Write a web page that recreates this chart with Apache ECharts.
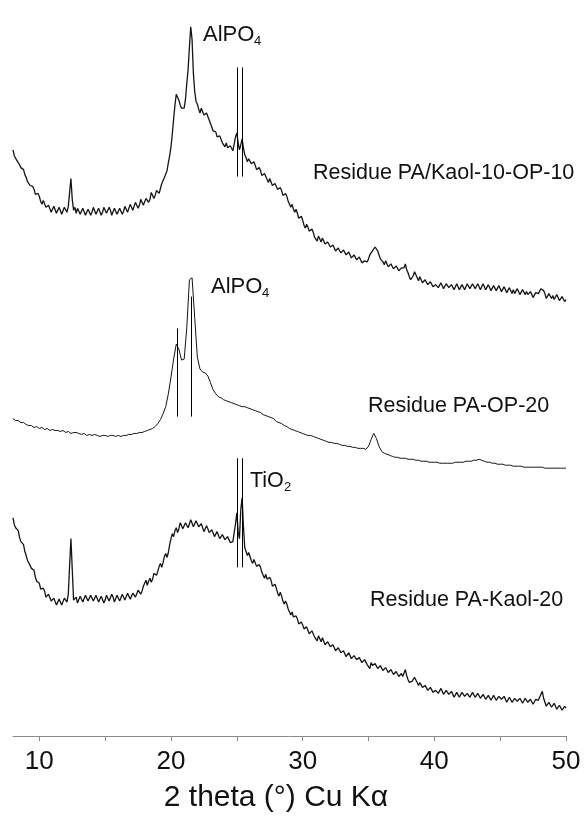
<!DOCTYPE html>
<html>
<head>
<meta charset="utf-8">
<script src="https://cdn.jsdelivr.net/npm/echarts@6/dist/echarts.min.js"></script>
<style>
  html, body { margin: 0; padding: 0; background: #fff; }
  #chart { width: 584px; height: 818px; }
</style>
</head>
<body>
<div id="chart"></div>
<script>
// every scan starts at 2θ = 8.0°; one row below = one degree
const angleStart = 8.0;
const fineStep = 0.1;   // the two noisy kaolin scans
const coarseStep = 0.2; // the smoother PA-OP-20 scan

// intensities (a.u., already offset for stacking)
const kaolOp = [
  591, 585, 583, 580, 581, 576, 573, 574, 571, 566, // 8
  563, 559, 561, 555, 553, 554, 551, 546, 544, 547, // 9
  544, 539, 536, 540, 538, 533, 531, 535, 533, 528, // 10
  529, 534, 532, 527, 528, 533, 531, 526, 527, 533, // 11
  531, 528, 534, 548, 562, 541, 530, 533, 527, 532, // 12
  531, 526, 527, 532, 530, 525, 526, 531, 529, 525, // 13
  528, 533, 531, 526, 527, 532, 530, 525, 528, 533, // 14
  532, 527, 528, 533, 530, 525, 527, 532, 531, 526, // 15
  527, 532, 531, 526, 529, 534, 533, 528, 530, 536, // 16
  535, 530, 532, 538, 537, 532, 535, 541, 540, 535, // 17
  537, 542, 543, 538, 541, 548, 547, 542, 545, 550, // 18
  551, 547, 552, 557, 558, 563, 564, 570, 578, 585, // 19
  594, 607, 622, 636, 647, 645, 641, 636, 633, 631, // 20
  633, 642, 658, 672, 695, 715, 702, 668, 650, 640, // 21
  637, 632, 628, 633, 631, 626, 625, 628, 626, 621, // 22
  620, 614, 610, 612, 609, 604, 602, 605, 603, 598, // 23
  597, 594, 598, 593, 592, 595, 593, 590, 597, 604, // 24
  608, 598, 591, 596, 602, 593, 586, 583, 579, 582, // 25
  580, 577, 575, 579, 575, 571, 569, 573, 570, 565, // 26
  563, 567, 565, 561, 558, 562, 560, 555, 553, 557, // 27
  555, 551, 549, 553, 550, 545, 543, 547, 544, 539, // 28
  536, 533, 536, 531, 528, 531, 527, 522, 520, 524, // 29
  520, 515, 512, 516, 513, 509, 507, 511, 508, 503, // 30
  502, 499, 504, 501, 498, 502, 500, 496, 494, 498, // 31
  497, 493, 491, 495, 494, 489, 488, 492, 491, 487, // 32
  486, 490, 489, 485, 484, 488, 486, 482, 481, 485, // 33
  484, 480, 479, 483, 482, 477, 476, 479, 480, 478, // 34
  481, 485, 487, 489, 490, 493, 493, 489, 485, 481, // 35
  482, 478, 475, 479, 477, 473, 472, 476, 475, 471, // 36
  470, 474, 473, 469, 468, 472, 470, 472, 476, 470, // 37
  467, 463, 460, 462, 464, 468, 465, 462, 459, 463, // 38
  461, 457, 456, 460, 458, 455, 454, 458, 456, 453, // 39
  452, 455, 456, 452, 453, 457, 455, 451, 451, 456, // 40
  455, 452, 451, 455, 454, 450, 452, 456, 455, 450, // 41
  451, 455, 454, 450, 452, 456, 455, 451, 452, 456, // 42
  455, 451, 452, 456, 455, 450, 452, 456, 454, 450, // 43
  451, 455, 454, 449, 450, 454, 453, 449, 450, 454, // 44
  452, 448, 449, 453, 451, 447, 448, 452, 450, 446, // 45
  450, 446, 447, 451, 449, 445, 446, 450, 448, 445, // 46
  448, 445, 444, 448, 447, 442, 443, 447, 446, 446, // 47
  448, 451, 453, 449, 446, 441, 442, 446, 445, 441, // 48
  444, 440, 441, 445, 443, 439, 439, 443, 442, 438, // 49
  440                                               // 50
];

const opOnly = [
  320, 318, 318, 316, 316, // 8
  314, 313, 313, 311, 312, // 9
  310, 311, 309, 310, 308, // 10
  309, 308, 308, 307, 308, // 11
  306, 307, 305, 306, 306, // 12
  305, 304, 305, 303, 304, // 13
  303, 304, 303, 302, 303, // 14
  303, 302, 303, 303, 302, // 15
  303, 302, 303, 303, 304, // 16
  304, 305, 305, 306, 306, // 17
  307, 308, 309, 310, 312, // 18
  315, 319, 325, 332, 345, // 19
  362, 380, 395, 390, 379, // 20
  380, 412, 460, 462, 422, // 21
  382, 370, 367, 366, 363, // 22
  356, 349, 345, 342, 341, // 23
  339, 338, 337, 336, 335, // 24
  334, 333, 332, 332, 331, // 25
  330, 329, 328, 327, 326, // 26
  324, 323, 322, 321, 320, // 27
  317, 316, 315, 313, 312, // 28
  310, 309, 308, 307, 306, // 29
  305, 304, 303, 303, 302, // 30
  301, 300, 299, 298, 297, // 31
  296, 296, 295, 295, 294, // 32
  293, 293, 292, 292, 291, // 33
  291, 290, 290, 290, 289, // 34
  292, 299, 305, 300, 292, // 35
  287, 285, 284, 283, 282, // 36
  281, 281, 280, 280, 280, // 37
  279, 279, 279, 278, 278, // 38
  277, 277, 277, 276, 276, // 39
  276, 276, 275, 275, 275, // 40
  275, 275, 275, 276, 276, // 41
  276, 276, 277, 277, 277, // 42
  278, 278, 279, 278, 277, // 43
  276, 276, 275, 275, 274, // 44
  274, 274, 273, 273, 273, // 45
  272, 272, 272, 272, 271, // 46
  271, 271, 271, 271, 271, // 47
  271, 271, 270, 270, 270, // 48
  270, 270, 270, 270, 270, // 49
  270                       // 50
];

const kaolOnly = [
  220, 213, 210, 211, 207, 200, 196, 197, 193, 186, // 8
  182, 177, 179, 172, 169, 170, 167, 160, 156, 157, // 9
  154, 148, 146, 149, 146, 140, 139, 143, 141, 136, // 10
  135, 139, 138, 132, 133, 138, 137, 132, 134, 139, // 11
  137, 135, 143, 172, 199, 168, 137, 135, 140, 134, // 12
  136, 141, 140, 135, 137, 142, 141, 136, 138, 142, // 13
  141, 136, 137, 142, 140, 135, 136, 141, 139, 134, // 14
  137, 142, 141, 136, 138, 143, 140, 135, 136, 142, // 15
  141, 136, 137, 143, 142, 137, 138, 144, 143, 138, // 16
  140, 144, 145, 140, 142, 147, 148, 143, 146, 151, // 17
  153, 157, 152, 156, 159, 155, 158, 164, 166, 162, // 18
  166, 171, 174, 170, 175, 181, 184, 180, 185, 193, // 19
  199, 204, 201, 207, 210, 205, 209, 215, 214, 209, // 20
  211, 215, 216, 210, 212, 218, 217, 211, 213, 217, // 21
  215, 211, 209, 214, 212, 206, 207, 212, 209, 205, // 22
  204, 208, 207, 201, 202, 206, 204, 199, 199, 203, // 23
  202, 198, 197, 201, 199, 195, 194, 196, 198, 214, // 24
  225, 206, 199, 228, 240, 212, 190, 186, 182, 185, // 25
  181, 177, 174, 178, 176, 171, 169, 173, 170, 165, // 26
  162, 159, 163, 158, 156, 160, 157, 151, 149, 153, // 27
  149, 144, 141, 145, 141, 136, 133, 136, 133, 128, // 28
  125, 122, 125, 120, 118, 121, 118, 113, 111, 115, // 29
  112, 108, 106, 110, 108, 103, 102, 106, 104, 100, // 30
  99, 96, 101, 98, 95, 99, 97, 92, 91, 95,          // 31
  94, 90, 88, 92, 91, 86, 85, 89, 88, 84,           // 32
  82, 86, 85, 80, 80, 84, 82, 78, 77, 81,           // 33
  80, 77, 75, 79, 78, 74, 73, 77, 76, 72,           // 34
  71, 68, 74, 71, 69, 73, 72, 68, 67, 71,           // 35
  70, 66, 65, 69, 68, 64, 63, 67, 66, 62,           // 36
  61, 65, 64, 60, 59, 63, 60, 62, 67, 61,           // 37
  57, 54, 53, 55, 56, 59, 57, 54, 51, 54,           // 38
  52, 49, 47, 51, 50, 46, 45, 49, 48, 44,           // 39
  43, 46, 47, 43, 44, 48, 46, 42, 42, 46,           // 40
  45, 42, 41, 45, 44, 39, 40, 44, 43, 39,           // 41
  40, 44, 44, 40, 39, 43, 43, 39, 40, 44,           // 42
  43, 39, 38, 43, 42, 38, 39, 42, 41, 37,           // 43
  37, 41, 41, 36, 38, 41, 40, 36, 36, 40,           // 44
  40, 37, 36, 40, 39, 34, 35, 39, 38, 34,           // 45
  35, 38, 39, 35, 34, 38, 37, 33, 35, 38,           // 46
  38, 34, 33, 37, 36, 32, 34, 37, 35, 36,           // 47
  38, 42, 45, 38, 34, 30, 30, 34, 33, 29,           // 48
  29, 33, 32, 27, 28, 31, 30, 26, 27, 30,           // 49
  28                                                // 50
];

// reflection markers: [2θ, from, to]
const kaolOpMarks = [[25.0, 564, 674], [25.4, 564, 674]];
const opOnlyMarks = [[20.47, 322, 411], [21.53, 322, 443]];
const kaolOnlyMarks = [[25.03, 170, 280], [25.4, 170, 280]];

const tickAngles = [10, 15, 20, 25, 30, 35, 40, 45, 50];
const labelAngles = [10, 20, 30, 40, 50];

const FONT = "Liberation Sans";

function toPairs(values, step) {
  return values.map((v, i) => [+(angleStart + i * step).toFixed(2), v]);
}

function toMarkLines(marks) {
  return marks.map(m => [{ coord: [m[0], m[1]] }, { coord: [m[0], m[2]] }]);
}

function makeSeries(name, values, step, marks, width) {
  return {
    name: name,
    type: "line",
    data: toPairs(values, step),
    showSymbol: false,
    symbol: "none",
    lineStyle: { color: "#141414", width: width },
    markLine: {
      silent: true,
      symbol: "none",
      label: { show: false },
      lineStyle: { color: "#000", width: 1, type: "solid" },
      data: toMarkLines(marks),
    },
  };
}

// text annotations (subscripts drawn as separate small texts)
function txt(x, y, s, size) {
  return {
    type: "text",
    left: x,
    top: y,
    style: {
      text: s,
      fill: "#111",
      font: size + "px '" + FONT + "'",
      verticalAlign: "middle",
    },
  };
}

const chart = echarts.init(document.getElementById("chart"));

const option = {
  backgroundColor: "#fff",
  animation: false,
  grid: { left: 13, right: 18, top: 0, bottom: 76 },
  xAxis: {
    type: "value",
    min: 8,
    max: 50,
    name: "2 theta (°) Cu Kα",
    nameLocation: "middle",
    nameGap: 47,
    nameTextStyle: {
      fontFamily: FONT,
      fontSize: 30,
      color: "#111",
      padding: [0, 27, 0, 0],
    },
    axisLine: { lineStyle: { color: "#8a8a8a", width: 1 } },
    axisTick: {
      show: true,
      length: 5,
      customValues: tickAngles,
      lineStyle: { color: "#8a8a8a" },
    },
    axisLabel: {
      customValues: labelAngles,
      fontFamily: FONT,
      fontSize: 26,
      color: "#111",
      margin: 13,
    },
    splitLine: { show: false },
  },
  yAxis: {
    type: "value",
    min: 0,
    max: 742,
    show: false,
    splitLine: { show: false },
  },
  series: [
    makeSeries("Residue PA/Kaol-10-OP-10", kaolOp, fineStep, kaolOpMarks, 1.3),
    makeSeries("Residue PA-OP-20", opOnly, coarseStep, opOnlyMarks, 1),
    makeSeries("Residue PA-Kaol-20", kaolOnly, fineStep, kaolOnlyMarks, 1.3),
  ],
  graphic: [
    txt(203, 24, "AlPO", 22),
    txt(254, 35, "4", 13),
    txt(313, 162, "Residue PA/Kaol-10-OP-10", 21.5),
    txt(211, 276, "AlPO", 22),
    txt(262, 287, "4", 13),
    txt(368, 395, "Residue PA-OP-20", 21.5),
    txt(250, 470, "TiO", 21.5),
    txt(284, 481, "2", 13),
    txt(370, 589, "Residue PA-Kaol-20", 21.5),
  ],
};

chart.setOption(option);
</script>
</body>
</html>
